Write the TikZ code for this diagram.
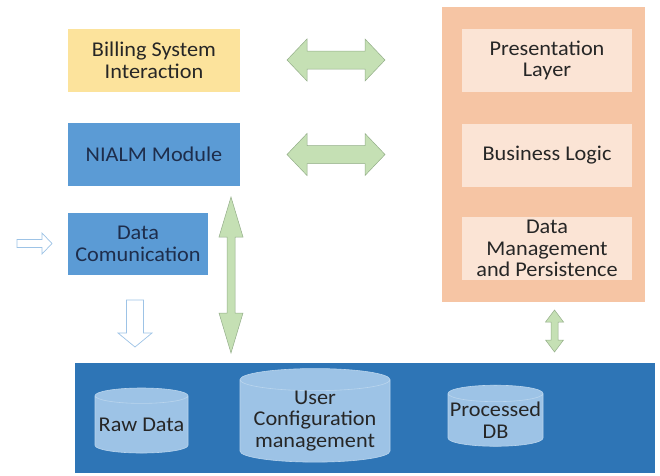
\documentclass[tikz,border=0pt]{standalone}
\usepackage{fontspec}
\setmainfont{Carlito}[FakeStretch=1.06]
\usetikzlibrary{shapes.geometric,calc}

\definecolor{billyellow}{HTML}{FCE39C}
\definecolor{modblue}{HTML}{5B9BD5}
\definecolor{dbband}{HTML}{2E75B6}
\definecolor{cylblue}{HTML}{9DC3E6}
\definecolor{tierorange}{HTML}{F6C5A4}
\definecolor{tierinner}{HTML}{FBE4D5}
\definecolor{linkgreen}{HTML}{C5E0B4}
\definecolor{linkedge}{HTML}{93AD88}
\definecolor{navytext}{HTML}{1E2D4B}
\definecolor{darktext}{HTML}{262626}

\begin{document}
\begin{tikzpicture}[
    x=1pt, y=-1pt,
    box/.style={rectangle,inner sep=0pt,align=center,text=darktext},
    module/.style={box,fill=modblue,text=navytext},
    tier/.style={box,fill=tierinner,minimum width=170pt,minimum height=63pt},
    store/.style={cylinder,shape border rotate=90,aspect=0.18,fill=cylblue,
                  draw=cylblue!70!white,line width=0.6pt,inner sep=0pt,align=center,text=darktext},
    % block arrows: shaft half width, head half width, head length
    twoway/.style n args={3}{fill=linkgreen,draw=linkedge,line width=0.5pt,line join=miter,
        to path={(\tikztostart)
          -- ($($(\tikztostart)!#3!(\tikztotarget)$)!#2!90:(\tikztotarget)$)
          -- ($($(\tikztostart)!#3!(\tikztotarget)$)!#1!90:(\tikztotarget)$)
          -- ($($(\tikztotarget)!#3!(\tikztostart)$)!#1!-90:(\tikztostart)$)
          -- ($($(\tikztotarget)!#3!(\tikztostart)$)!#2!-90:(\tikztostart)$)
          -- (\tikztotarget)
          -- ($($(\tikztotarget)!#3!(\tikztostart)$)!#2!90:(\tikztostart)$)
          -- ($($(\tikztotarget)!#3!(\tikztostart)$)!#1!90:(\tikztostart)$)
          -- ($($(\tikztostart)!#3!(\tikztotarget)$)!#1!-90:(\tikztotarget)$)
          -- ($($(\tikztostart)!#3!(\tikztotarget)$)!#2!-90:(\tikztotarget)$)
          -- cycle}},
    oneway/.style n args={3}{fill=white,draw=cylblue,line width=0.7pt,line join=miter,
        to path={($(\tikztostart)!#1!90:(\tikztotarget)$)
          -- ($($(\tikztotarget)!#3!(\tikztostart)$)!#1!-90:(\tikztostart)$)
          -- ($($(\tikztotarget)!#3!(\tikztostart)$)!#2!-90:(\tikztostart)$)
          -- (\tikztotarget)
          -- ($($(\tikztotarget)!#3!(\tikztostart)$)!#2!90:(\tikztostart)$)
          -- ($($(\tikztotarget)!#3!(\tikztostart)$)!#1!90:(\tikztostart)$)
          -- ($(\tikztostart)!#1!-90:(\tikztotarget)$)
          -- cycle}},
    font=\fontsize{21}{21.5}\selectfont
    ]

    \useasboundingbox (0,0) rectangle (660,475);

    % left modules:
    \node(bill) at (154,60.5) [box,fill=billyellow,minimum width=172pt,minimum height=63pt] {Billing System\\Interaction};
    \node(nialm) at (154,154.5) [module,minimum width=172pt,minimum height=63pt] {NIALM Module};
    \node(comm) at (138,244) [module,minimum width=140pt,minimum height=62pt] {Data\\Comunication};

    % application tiers:
    \node(app) at (543.5,154.5) [box,fill=tierorange,minimum width=203pt,minimum height=295pt] {};
    \node(pres) at (547,60.5) [tier] {Presentation\\Layer};
    \node(logic) at (547,155) [tier] {Business Logic};
    \node(persist) at (547,248.5) [tier] {Data\\Management\\and Persistence};

    % storage:
    \node(band) at (365,418) [box,fill=dbband,minimum width=580pt,minimum height=110pt] {};
    \node(raw) at (141.5,424.5) [store,minimum width=93pt,minimum height=65pt] {Raw Data};
    \node(user) at (315,421) [store,minimum width=150pt,minimum height=78pt] {User\\Configuration\\management};
    \node(proc) at (495.5,420) [store,minimum width=95pt,minimum height=60pt] {Processed\\DB};

    % link ends:
    \coordinate(billw) at (287,60);
    \coordinate(bille) at (385,60);
    \coordinate(nialmw) at (287,154.5);
    \coordinate(nialme) at (385,154.5);
    \coordinate(storen) at (231,197);
    \coordinate(stores) at (231,353);
    \coordinate(tiern) at (554.5,310);
    \coordinate(tiers) at (554.5,352);
    \coordinate(inw) at (17,243.5);
    \coordinate(ine) at (52,243.5);
    \coordinate(rawn) at (135,300);
    \coordinate(raws) at (135,347);

    % links:
    \draw[twoway={9pt}{21pt}{20pt}] (billw) to (bille);
    \draw[twoway={9pt}{21pt}{20pt}] (nialmw) to (nialme);
    \draw[twoway={4pt}{12pt}{40pt}] (storen) to (stores);
    \draw[twoway={3.5pt}{9pt}{12pt}] (tiern) to (tiers);

    % data feeds:
    \draw[oneway={4pt}{10.5pt}{10pt}] (inw) to (ine);
    \draw[oneway={8.5pt}{17pt}{14pt}] (rawn) to (raws);

  \end{tikzpicture}
\end{document}
